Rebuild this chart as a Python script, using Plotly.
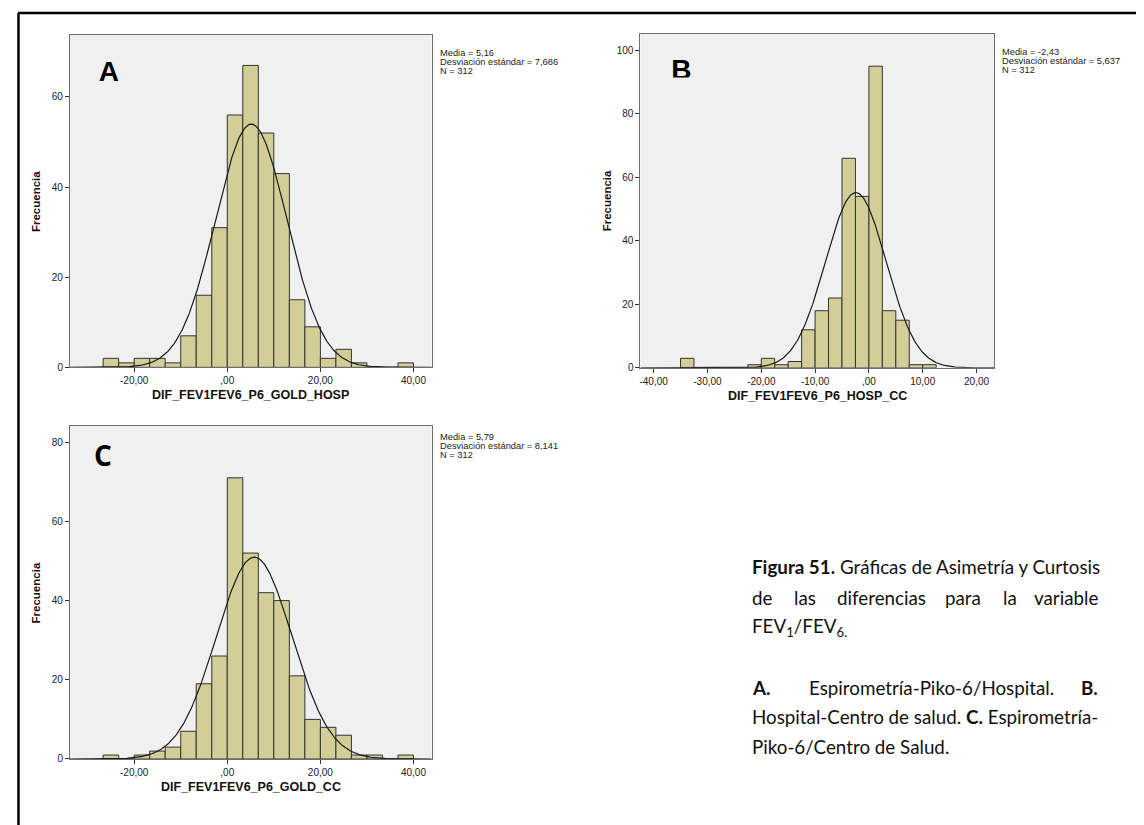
import numpy as np
import plotly.graph_objects as go

W, H = 1144, 825

# bin frequencies
counts_a = [2, 1, 2, 2, 1, 7, 16, 31, 56, 67, 52, 43, 15, 9, 2, 4, 1, 0, 0, 1]
counts_b = [3, 0, 0, 0, 0, 1, 3, 1, 2, 12, 18, 22, 66, 54, 95, 18, 15, 1, 1]
counts_c = [1, 0, 1, 2, 3, 7, 19, 26, 71, 52, 42, 40, 21, 10, 8, 6, 1, 1, 0, 1]

bin_start_a, bin_width_a = -80 / 3, 10 / 3
bin_start_b, bin_width_b = -35.0, 2.5
bin_start_c, bin_width_c = -80 / 3, 10 / 3

# media, desviacion estandar, N
stats_a = (5.16, 7.686, 312)
stats_b = (-2.43, 5.637, 312)
stats_c = (5.79, 8.141, 312)

var_names = ["DIF_FEV1FEV6_P6_GOLD_HOSP", "DIF_FEV1FEV6_P6_HOSP_CC", "DIF_FEV1FEV6_P6_GOLD_CC"]
panel_letters = ["A", "B", "C"]

xticks_ac = [-20, 0, 20, 40]
xticklabels_ac = ["-20,00", ",00", "20,00", "40,00"]
xticks_b = [-40, -30, -20, -10, 0, 10, 20]
xticklabels_b = ["-40,00", "-30,00", "-20,00", "-10,00", ",00", "10,00", "20,00"]
yticks_a = [0, 20, 40, 60]
yticks_b = [0, 20, 40, 60, 80, 100]
yticks_c = [0, 20, 40, 60, 80]

BAR = "#d3ce97"
PLOT_BG = "#f0f0f0"
ARIAL = "Liberation Sans, Arial, sans-serif"
CAPTION_FONT = "Lato, Open Sans, sans-serif"


def px(x):
    return x / W


def py(y):
    return 1 - y / H


def comma(v, nd):
    return f"{v:.{nd}f}".replace(".", ",")


# pixel boxes of the plot areas: left, top, right, bottom
panels = [
    dict(counts=counts_a, start=bin_start_a, bw=bin_width_a, stats=stats_a,
         box=(61, 27, 423, 362), xr=(-33.8, 43.9), yr=(0, 73.8),
         xt=xticks_ac, xl=xticklabels_ac, yt=yticks_a, stat_y=46, letter_pos=(100, 66)),
    dict(counts=counts_b, start=bin_start_b, bw=bin_width_b, stats=stats_b,
         box=(632, 26, 986, 362.5), xr=(-42.45, 23.27), yr=(0, 105.2),
         xt=xticks_b, xl=xticklabels_b, yt=yticks_b, stat_y=45, letter_pos=(673, 64)),
    dict(counts=counts_c, start=bin_start_c, bw=bin_width_c, stats=stats_c,
         box=(61, 421, 423, 756.5), xr=(-33.8, 43.9), yr=(0, 84.1),
         xt=xticks_ac, xl=xticklabels_ac, yt=yticks_c, stat_y=433, letter_pos=(94, 454)),
]

fig = go.Figure()
layout = dict(width=W, height=H, margin=dict(l=0, r=0, t=0, b=0),
              paper_bgcolor="white", plot_bgcolor=PLOT_BG, showlegend=False)
annotations = []
shapes = []

for i, p in enumerate(panels):
    n = i + 1
    xa = "x" if n == 1 else f"x{n}"
    ya = "y" if n == 1 else f"y{n}"
    l, t, r, b = p["box"]

    counts = np.array(p["counts"])
    centers = p["start"] + p["bw"] * (np.arange(len(counts)) + 0.5)
    fig.add_trace(go.Bar(x=centers, y=counts, width=p["bw"], xaxis=xa, yaxis=ya,
                         marker=dict(color=BAR, line=dict(color="#333333", width=1))))

    mean, sd, nobs = p["stats"]
    xs = np.linspace(p["xr"][0], p["xr"][1], 400)
    ys = nobs * p["bw"] * np.exp(-0.5 * ((xs - mean) / sd) ** 2) / (sd * np.sqrt(2 * np.pi))
    fig.add_trace(go.Scatter(x=xs, y=ys, mode="lines", xaxis=xa, yaxis=ya,
                             line=dict(color="#1a1a1a", width=1.2), hoverinfo="skip"))

    axis_common = dict(showgrid=False, zeroline=False, showline=True, mirror=True,
                       linecolor="#6e6e6e", linewidth=1, ticks="outside", ticklen=4,
                       tickcolor="#333333", tickfont=dict(family=ARIAL, size=10, color="#222222"))
    layout["xaxis" if n == 1 else f"xaxis{n}"] = dict(
        axis_common, domain=[px(l), px(r)], range=list(p["xr"]), anchor=ya,
        tickvals=p["xt"], ticktext=p["xl"])
    layout["yaxis" if n == 1 else f"yaxis{n}"] = dict(
        axis_common, domain=[py(b), py(t)], range=list(p["yr"]), anchor=xa,
        tickvals=p["yt"], ticktext=[str(v) for v in p["yt"]])

    # axis titles
    annotations.append(dict(x=px((l + r) / 2), y=py(b + 28), text=f"<b>{var_names[i]}</b>",
                            xanchor="center", font=dict(family=ARIAL, size=12.5, color="#111111")))
    annotations.append(dict(x=px(l - 34), y=py((t + b) / 2), text="<b>Frecuencia</b>", textangle=-90,
                            xanchor="center", font=dict(family=ARIAL, size=11.5, color="#111111")))

    # statistics box
    lines = [f"Media = {comma(mean, 2)}", f"Desviación estándar = {comma(sd, 3)}", f"N = {nobs}"]
    for k, s in enumerate(lines):
        annotations.append(dict(x=px(r + 6), y=py(p["stat_y"] + 8.8 * k), text=s, xanchor="left",
                                height=8.6, font=dict(family=ARIAL, size=9.3, color="#222222")))

    # panel letter, drawn as a text trace so the clipping box for B can sit above it
    lx, ly = p["letter_pos"]
    x0, x1 = p["xr"]
    y0, y1 = p["yr"]
    letter_font = ARIAL if n < 3 else "Open Sans, sans-serif"
    fig.add_trace(go.Scatter(
        x=[x0 + (lx - l) / (r - l) * (x1 - x0)], y=[y1 - (ly - t) / (b - t) * (y1 - y0)],
        mode="text", text=[f"<b>{panel_letters[i]}</b>"], textposition="middle center",
        textfont=dict(family=letter_font, size=28, color="black"),
        xaxis=xa, yaxis=ya, hoverinfo="skip", cliponaxis=True))

# the B label is clipped at the bottom in the original
shapes.append(dict(type="rect", xref="paper", yref="paper", layer="above",
                   x0=px(657), x1=px(690), y0=py(84), y1=py(70),
                   fillcolor=PLOT_BG, line=dict(width=0)))

# caption, justified by hand
cap = dict(family=CAPTION_FONT, size=18.8, color="#111111")
cap_left, cap_right = 742, 1092
cap_lines_y = [563, 594, 624, 684, 714, 744]
annotations.append(dict(x=px(cap_left), y=py(cap_lines_y[0]), xanchor="left",
                        text="<b>Figura 51.</b> Gráficas de Asimetría y Curtosis", font=cap))
for word, wx in [("de", 742), ("las", 784), ("diferencias", 827), ("para", 935), ("la", 993)]:
    annotations.append(dict(x=px(wx), y=py(cap_lines_y[1]), xanchor="left", text=word, font=cap))
annotations.append(dict(x=px(cap_right), y=py(cap_lines_y[1]), xanchor="right", text="variable", font=cap))
annotations.append(dict(x=px(cap_left), y=py(cap_lines_y[2]), xanchor="left",
                        text="FEV<sub>1</sub>/FEV<sub>6.</sub>", font=cap))
annotations.append(dict(x=px(cap_left), y=py(cap_lines_y[3]), xanchor="left", text="<b>A.</b>", font=cap))
annotations.append(dict(x=px(799), y=py(cap_lines_y[3]), xanchor="left",
                        text="Espirometría-Piko-6/Hospital.", font=cap))
annotations.append(dict(x=px(cap_right), y=py(cap_lines_y[3]), xanchor="right", text="<b>B.</b>", font=cap))
annotations.append(dict(x=px(cap_left), y=py(cap_lines_y[4]), xanchor="left",
                        text="Hospital-Centro de salud. <b>C.</b> Espirometría-", font=cap))
annotations.append(dict(x=px(cap_left), y=py(cap_lines_y[5]), xanchor="left",
                        text="Piko-6/Centro de Salud.", font=cap))

for a in annotations:
    a.setdefault("xref", "paper")
    a.setdefault("yref", "paper")
    a.setdefault("showarrow", False)
    a.setdefault("yanchor", "middle")
layout["annotations"] = annotations

# page frame lines
shapes += [
    dict(type="line", xref="paper", yref="paper", x0=px(9), x1=1, y0=py(5), y1=py(5),
         line=dict(color="black", width=2.5)),
    dict(type="line", xref="paper", yref="paper", x0=px(9.5), x1=px(9.5), y0=py(5), y1=0,
         line=dict(color="black", width=2.5)),
]
layout["shapes"] = shapes

fig.update_layout(**layout)
fig.write_html("out.html")
